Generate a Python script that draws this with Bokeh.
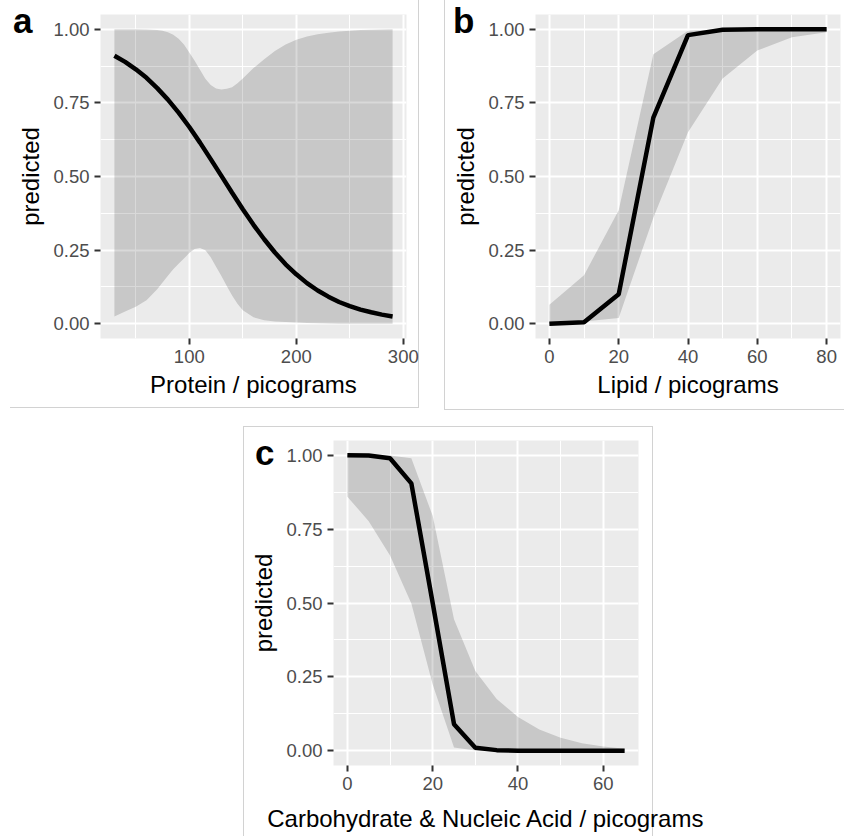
from bokeh.plotting import figure
from bokeh.models import Range1d, FixedTicker, Spacer, Div
from bokeh.layouts import row, column
from bokeh.embed import file_html
from bokeh.resources import INLINE

FONT = "Liberation Sans"

# ---- shared y axis ----
y_ticks = [0.0, 0.25, 0.5, 0.75, 1.0]
y_tick_labels = ["0.00", "0.25", "0.50", "0.75", "1.00"]
y_minor = [0.125, 0.375, 0.625, 0.875]

# ---- panel a : Protein ----
protein_x = [30, 40, 50, 60, 70, 80, 90, 100, 110, 120, 130, 140, 150, 160,
             170, 180, 190, 200, 210, 220, 230, 240, 250, 260, 270, 280, 290]
protein_pred = [0.910, 0.889, 0.864, 0.835, 0.800, 0.761, 0.717, 0.668, 0.615,
                0.559, 0.502, 0.445, 0.389, 0.336, 0.287, 0.242, 0.202, 0.168,
                0.138, 0.113, 0.092, 0.074, 0.060, 0.048, 0.039, 0.031, 0.025]
protein_band_x = [30, 40, 50, 60, 70, 75, 80, 85, 90, 95, 100, 105, 110, 115,
                  120, 125, 130, 135, 140, 145, 150, 160, 170, 180, 190, 200,
                  210, 220, 230, 240, 250, 260, 270, 280, 290]
protein_upper = [1.0, 1.0, 1.0, 0.999, 0.997, 0.995, 0.990, 0.981, 0.968, 0.948,
                 0.921, 0.893, 0.862, 0.832, 0.811, 0.799, 0.795, 0.798, 0.803,
                 0.817, 0.833, 0.868, 0.898, 0.926, 0.948, 0.964, 0.975, 0.983,
                 0.988, 0.992, 0.995, 0.997, 0.998, 0.999, 1.0]
protein_lower = [0.025, 0.042, 0.058, 0.080, 0.117, 0.140, 0.163, 0.185, 0.204,
                 0.222, 0.240, 0.254, 0.257, 0.250, 0.226, 0.194, 0.162, 0.128,
                 0.096, 0.068, 0.046, 0.022, 0.012, 0.008, 0.006, 0.004, 0.003,
                 0.002, 0.001, 0.0, 0.0, 0.0, 0.0, 0.0, 0.0]
protein_ticks = [100, 200, 300]
protein_minor = [50, 150, 250]

# ---- panel b : Lipid ----
lipid_x = [0, 10, 20, 30, 40, 50, 60, 70, 80]
lipid_pred = [0.0, 0.005, 0.10, 0.70, 0.98, 0.998, 1.0, 1.0, 1.0]
lipid_upper = [0.065, 0.165, 0.385, 0.915, 0.995, 1.0, 1.0, 1.0, 1.0]
lipid_lower = [0.0, 0.008, 0.02, 0.36, 0.65, 0.833, 0.928, 0.973, 0.99]
lipid_ticks = [0, 20, 40, 60, 80]
lipid_minor = [10, 30, 50, 70]

# ---- panel c : Carbohydrate & Nucleic Acid ----
carb_x = [0, 5, 10, 15, 20, 25, 30, 35, 40, 45, 50, 55, 60, 65]
carb_pred = [1.0, 0.999, 0.99, 0.905, 0.50, 0.09, 0.01, 0.002, 0.0, 0.0, 0.0,
             0.0, 0.0, 0.0]
carb_upper = [1.0, 1.0, 0.999, 0.99, 0.795, 0.445, 0.27, 0.175, 0.114, 0.072,
              0.044, 0.025, 0.014, 0.007]
carb_lower = [0.86, 0.777, 0.661, 0.498, 0.224, 0.011, 0.001, 0.0, 0.0, 0.0,
              0.0, 0.0, 0.0, 0.0]
carb_ticks = [0, 20, 40, 60]
carb_minor = [10, 30, 50]

panel_tags = ["a", "b", "c"]

BORDER = "#d2d2d2"


def border_styles(lines):
    imgs, sizes, poss = [], [], []
    for (x, y, w, h) in lines:
        imgs.append(f"linear-gradient({BORDER}, {BORDER})")
        sizes.append(f"{w}px {h}px")
        poss.append(f"{x}px {y}px")
    return {"background-image": ", ".join(imgs),
            "background-size": ", ".join(sizes),
            "background-position": ", ".join(poss),
            "background-repeat": "no-repeat"}


def make_panel(x, pred, bx, upper, lower, ticks, minor, xlabel,
               width, height, lines, bl, br, bt, bb, xstand):
    pad = 0.05 * (max(x) - min(x))
    p = figure(width=width, height=height,
               x_range=Range1d(min(x) - pad, max(x) + pad),
               y_range=Range1d(-0.05, 1.05),
               output_backend="svg", toolbar_location=None,
               min_border_left=bl, min_border_right=br,
               min_border_top=bt, min_border_bottom=bb,
               styles=border_styles(lines))
    p.background_fill_color = "#EBEBEB"
    p.border_fill_color = "white"
    p.border_fill_alpha = 0.0
    p.outline_line_color = None

    p.varea(x=bx, y1=lower, y2=upper, fill_color="black", fill_alpha=0.15)
    p.line(x, pred, line_color="black", line_width=4.5)

    xt = FixedTicker(ticks=ticks, minor_ticks=minor)
    yt = FixedTicker(ticks=y_ticks, minor_ticks=y_minor)
    p.xaxis.ticker = xt
    p.yaxis.ticker = yt
    p.xgrid.ticker = xt
    p.ygrid.ticker = yt
    p.yaxis.major_label_overrides = dict(zip(y_ticks, y_tick_labels))

    p.grid.grid_line_color = "white"
    p.grid.grid_line_width = 2
    p.grid.minor_grid_line_color = "white"
    p.grid.minor_grid_line_width = 1

    p.axis.axis_line_color = None
    p.axis.major_tick_line_color = "#333333"
    p.axis.major_tick_line_width = 2
    p.axis.major_tick_out = 6
    p.axis.major_tick_in = 0
    p.axis.minor_tick_line_color = None
    p.axis.major_label_text_font = FONT
    p.axis.major_label_text_font_size = "18.5px"
    p.axis.major_label_text_color = "#4D4D4D"
    p.axis.major_label_standoff = 5
    p.axis.axis_label_text_font = FONT
    p.axis.axis_label_text_font_size = "24px"
    p.axis.axis_label_text_font_style = "normal"
    p.axis.axis_label_text_color = "black"
    p.xaxis.axis_label = xlabel
    p.yaxis.axis_label = "predicted"
    p.xaxis.axis_label_standoff = xstand
    p.yaxis.axis_label_standoff = 6
    return p


def tag_div(text, left, top):
    return Div(text=text, width=30, height=40,
               styles={"position": "absolute", "left": f"{left}px",
                       "top": f"{top}px", "font-family": FONT,
                       "font-size": "35px", "font-weight": "bold",
                       "line-height": "35px", "color": "black"})


pa = make_panel(protein_x, protein_pred, protein_band_x, protein_upper,
                protein_lower, protein_ticks, protein_minor,
                "Protein / picograms", 419, 410,
                [(418, 0, 1, 408), (10, 407, 409, 1)],
                100, 13, 14, 72, 5)
pb = make_panel(lipid_x, lipid_pred, lipid_x, lipid_upper, lipid_lower,
                lipid_ticks, lipid_minor, "Lipid / picograms",
                400, 410, [(0, 0, 1, 410), (0, 409, 400, 1)],
                91, 4, 14, 72, 5)
pc = make_panel(carb_x, carb_pred, carb_x, carb_upper, carb_lower, carb_ticks,
                carb_minor, "Carbohydrate & Nucleic Acid / picograms",
                601, 410,
                [(0, 0, 409, 1), (0, 0, 1, 410), (409, 0, 1, 410)],
                90, 206, 14, 71, 12)

layout = column(
    tag_div(panel_tags[0], 8, -2),
    tag_div(panel_tags[1], 448, -2),
    tag_div(panel_tags[2], 250, 430),
    row(pa, Spacer(width=25, height=410), pb),
    Spacer(width=844, height=16),
    row(Spacer(width=243, height=410), pc),
)

open("out.html", "w").write(file_html(layout, INLINE))
